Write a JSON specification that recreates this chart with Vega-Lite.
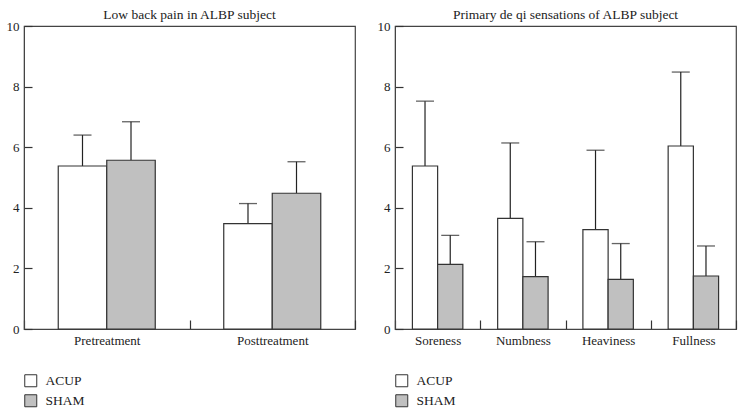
{
  "$schema": "https://vega.github.io/schema/vega-lite/v6.json",
  "background": "white",
  "padding": {"left": 5, "top": 6, "right": 5, "bottom": 2},
  "spacing": 19,
  "datasets": {
    "pain": [
      {"group": "Pretreatment", "treatment": "ACUP", "mean": 5.38, "upper": 6.40},
      {"group": "Pretreatment", "treatment": "SHAM", "mean": 5.57, "upper": 6.84},
      {"group": "Posttreatment", "treatment": "ACUP", "mean": 3.48, "upper": 4.14},
      {"group": "Posttreatment", "treatment": "SHAM", "mean": 4.48, "upper": 5.52}
    ],
    "deqi": [
      {"group": "Soreness", "treatment": "ACUP", "mean": 5.38, "upper": 7.52},
      {"group": "Soreness", "treatment": "SHAM", "mean": 2.13, "upper": 3.09},
      {"group": "Numbness", "treatment": "ACUP", "mean": 3.65, "upper": 6.14},
      {"group": "Numbness", "treatment": "SHAM", "mean": 1.73, "upper": 2.88},
      {"group": "Heaviness", "treatment": "ACUP", "mean": 3.28, "upper": 5.90},
      {"group": "Heaviness", "treatment": "SHAM", "mean": 1.64, "upper": 2.82},
      {"group": "Fullness", "treatment": "ACUP", "mean": 6.04, "upper": 8.48},
      {"group": "Fullness", "treatment": "SHAM", "mean": 1.75, "upper": 2.74}
    ]
  },
  "config": {
    "font": "Liberation Serif",
    "view": {"stroke": "#444", "strokeWidth": 1.2},
    "title": {"font": "Liberation Serif", "fontSize": 13.5, "fontWeight": "normal", "color": "#222", "offset": -1},
    "axis": {
      "labelFont": "Liberation Serif", "labelFontSize": 13, "labelColor": "#222",
      "domainColor": "#444", "tickColor": "#333", "tickWidth": 1.2, "grid": false, "title": null
    },
    "legend": {
      "labelFont": "Liberation Serif", "labelFontSize": 13.5, "labelColor": "#222",
      "symbolType": "square", "symbolSize": 144, "symbolStrokeColor": "#333", "symbolStrokeWidth": 1,
      "padding": 0, "rowPadding": 3, "labelOffset": 8, "title": null
    }
  },
  "resolve": {"legend": {"fill": "independent"}, "scale": {"x": "independent", "xOffset": "independent"}},
  "hconcat": [
    {
      "width": 331, "height": 303,
      "title": "Low back pain in ALBP subject",
      "data": {"name": "pain"},
      "encoding": {
        "x": {"field": "group", "type": "nominal", "sort": ["Pretreatment", "Posttreatment"],
              "scale": {"paddingInner": 0, "paddingOuter": 0},
              "axis": {"labelAngle": 0, "tickBand": "extent", "tickSize": -9, "labelPadding": 14}},
        "xOffset": {"field": "treatment", "type": "nominal", "sort": ["ACUP", "SHAM"],
                    "scale": {"paddingInner": 0, "paddingOuter": 0.706}},
        "y": {"field": "mean", "type": "quantitative",
              "scale": {"domain": [0, 10], "nice": false},
              "axis": {"values": [0, 2, 4, 6, 8, 10], "tickSize": -8, "labelPadding": 13}}
      },
      "layer": [
        {"mark": {"type": "rule", "color": "#222", "strokeWidth": 1.2},
         "encoding": {"y2": {"field": "upper"}}},
        {"mark": {"type": "tick", "orient": "horizontal", "color": "#222", "size": 18, "thickness": 1.3},
         "encoding": {"y": {"field": "upper", "type": "quantitative"}}},
        {"mark": {"type": "bar", "stroke": "#333", "strokeWidth": 1.2},
         "encoding": {
           "fill": {"field": "treatment", "type": "nominal",
                    "scale": {"domain": ["ACUP", "SHAM"], "range": ["#ffffff", "#c0c0c0"]},
                    "legend": {"orient": "none", "legendX": 0, "legendY": 348, "direction": "vertical"}}
         }}
      ]
    },
    {
      "width": 341, "height": 303,
      "title": "Primary de qi sensations of ALBP subject",
      "data": {"name": "deqi"},
      "encoding": {
        "x": {"field": "group", "type": "nominal", "sort": ["Soreness", "Numbness", "Heaviness", "Fullness"],
              "scale": {"paddingInner": 0, "paddingOuter": 0},
              "axis": {"labelAngle": 0, "tickBand": "extent", "tickSize": -9, "labelPadding": 14}},
        "xOffset": {"field": "treatment", "type": "nominal", "sort": ["ACUP", "SHAM"],
                    "scale": {"paddingInner": 0, "paddingOuter": 0.69}},
        "y": {"field": "mean", "type": "quantitative",
              "scale": {"domain": [0, 10], "nice": false},
              "axis": {"values": [0, 2, 4, 6, 8, 10], "tickSize": -8, "labelPadding": 13}}
      },
      "layer": [
        {"mark": {"type": "rule", "color": "#222", "strokeWidth": 1.2},
         "encoding": {"y2": {"field": "upper"}}},
        {"mark": {"type": "tick", "orient": "horizontal", "color": "#222", "size": 18, "thickness": 1.3},
         "encoding": {"y": {"field": "upper", "type": "quantitative"}}},
        {"mark": {"type": "bar", "stroke": "#333", "strokeWidth": 1.2},
         "encoding": {
           "fill": {"field": "treatment", "type": "nominal",
                    "scale": {"domain": ["ACUP", "SHAM"], "range": ["#ffffff", "#c0c0c0"]},
                    "legend": {"orient": "none", "legendX": 0, "legendY": 348, "direction": "vertical"}}
         }}
      ]
    }
  ]
}
